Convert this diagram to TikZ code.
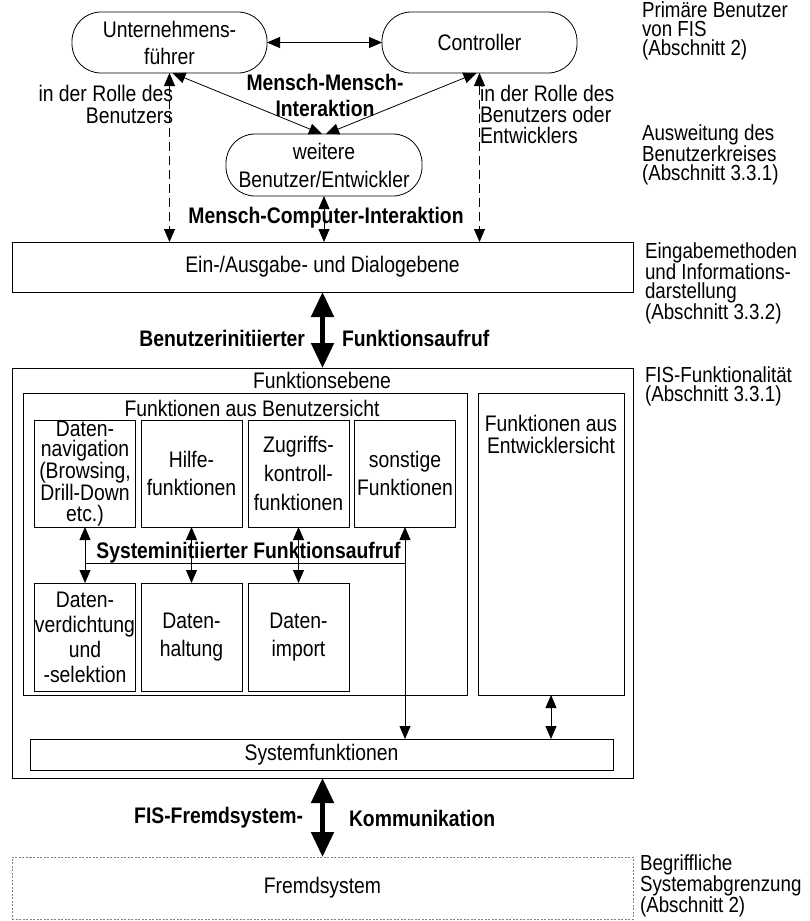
\documentclass[tikz,border=0pt]{standalone}
\usepackage{fontspec}
\setmainfont{Liberation Sans}[FakeStretch=0.86]
\usetikzlibrary{arrows.meta}
\newcommand\fz[1]{\fontsize{22.5}{#1}\selectfont}
\begin{document}
\begin{tikzpicture}[x=1pt,y=-1pt,
  every node/.style={inner sep=0pt, outer sep=0pt, align=center, font=\fz{21}},
  box/.style={draw, line width=0.8pt},
  pill/.style={box, rounded corners=29pt},
  bl/.style={font=\fz{26}\bfseries},
  dbl/.style={line width=0.8pt, {Triangle[length=13pt,width=11pt]}-{Triangle[length=13pt,width=11pt]}},
  dbldash/.style={dbl, dash pattern=on 9pt off 5pt},
  fat/.style={line width=5pt, {Triangle[length=25pt,width=22pt]}-{Triangle[length=25pt,width=22pt]}},
  rl/.style={font=\fontsize{21.8}{19}\selectfont, align=left, anchor=west},
  sbox/.style={box, minimum width=101pt, minimum height=107pt}
  ]
\useasboundingbox (0,0) rectangle (810,921);
% top persons
\node[pill, minimum width=195pt, minimum height=61pt, font=\fz{27}] (uf) at (169.5,42.5) {Unternehmens-\\führer};
\node[pill, minimum width=195pt, minimum height=61pt] (co) at (479.5,42.5) {Controller};
\node[pill, minimum width=196pt, minimum height=62pt, font=\fz{28}] (wb) at (324,165) {weitere\\Benutzer/Entwickler};
% levels
\node[box, minimum width=621pt, minimum height=50pt] (ea) at (322.5,267) {Ein-/Ausgabe- und Dialogebene};
\node[box, minimum width=621pt, minimum height=410pt] (fe) at (322.5,573) {};
\node (fet) at (322,380) {Funktionsebene};
\node[box, minimum width=444pt, minimum height=302pt] (bs) at (245,544) {};
\node (bst) at (252,408) {Funktionen aus Benutzersicht};
\node[box, minimum width=146pt, minimum height=302pt] (es) at (551,544) {};
\node[font=\fz{22}] (est) at (551,434) {Funktionen aus\\Entwicklersicht};
% small boxes
\node[sbox, font=\fz{20.7}] (a1) at (85,473.5) {Daten-\\navigation\\(Browsing,\\Drill-Down\\etc.)};
\node[sbox, font=\fz{28}] (a2) at (191.5,473.5) {Hilfe-\\funktionen};
\node[sbox, font=\fz{29}] (a3) at (298.5,473.5) {Zugriffs-\\kontroll-\\funktionen};
\node[sbox, font=\fz{28}] (a4) at (405,473.5) {sonstige\\Funktionen};
\node[sbox, minimum height=108pt, font=\fz{25}] (b1) at (85,637) {Daten-\\verdichtung\\und\\-selektion};
\node[sbox, minimum height=108pt, font=\fz{28}] (b2) at (191.5,637) {Daten-\\haltung};
\node[sbox, minimum height=108pt, font=\fz{28}] (b3) at (298.5,637) {Daten-\\import};
\node[box, minimum width=583pt, minimum height=31pt] (sf) at (321.5,754.5) {Systemfunktionen};
\node[draw=gray, line width=0.7pt, dash pattern=on 2pt off 1.5pt, minimum width=621pt, minimum height=62pt] (fr) at (322.5,888) {Fremdsystem};
% labels
\node[bl] (mm) at (325,95) {Mensch-Mensch-\\Interaktion};
\node[font=\fz{22}, align=right, anchor=east] (rlu) at (173,104) {in der Rolle des\\Benutzers};
\node[font=\fz{21}, align=left, anchor=west] (rlc) at (480,114) {in der Rolle des\\Benutzers oder\\Entwicklers};
\node[font=\fz{21}\bfseries] (mc) at (326,218) {Mensch-Computer-Interaktion};
\node[font=\fz{21}\bfseries, anchor=east] (bi) at (305,338) {Benutzerinitiierter};
\node[font=\fz{21}\bfseries, anchor=west] (fa) at (342,338) {Funktionsaufruf};
\node[font=\fz{21}\bfseries] (si) at (248.5,553) {Systeminitiierter Funktionsaufruf};
\node[font=\fz{21}\bfseries, anchor=east] (ff) at (303,818) {FIS-Fremdsystem-};
\node[font=\fz{21}\bfseries, anchor=west] (ko) at (349,818) {Kommunikation};
% right column
\node[rl] (r1) at (642,31) {Primäre Benutzer\\von FIS\\(Abschnitt 2)};
\node[rl] (r2) at (642,155) {Ausweitung des\\Benutzerkreises\\(Abschnitt 3.3.1)};
\node[rl] (r3) at (645,283.5) {Eingabemethoden\\und Informations-\\darstellung\\(Abschnitt 3.3.2)};
\node[rl] (r4) at (645,386.5) {FIS-Funktionalität\\(Abschnitt 3.3.1)};
\node[rl] (r5) at (640,886) {Begriffliche\\Systemabgrenzung\\(Abschnitt 2)};
% connectors
\draw[dbl] (uf.east) -- (co.west);
\draw[dbl] ([xshift=3pt]uf.south) -- ([xshift=-2pt]wb.north);
\draw[dbl] ([xshift=-3pt]co.south) -- ([xshift=2pt]wb.north);
\draw[dbldash] (uf.south) -- (uf.south |- ea.north);
\draw[dbldash] (co.south) -- (co.south |- ea.north);
\draw[dbl] (wb.south) -- (wb.south |- ea.north);
\draw[fat] (ea.south) -- (ea.south |- fe.north);
\draw[fat] (fe.south) -- (fr.north);
\draw[dbl] (a1.south) -- (b1.north);
\draw[dbl] (a2.south) -- (b2.north);
\draw[dbl] (a3.south) -- (b3.north);
\coordinate (h1) at (85,563);
\coordinate (h2) at (405,563);
\draw[line width=0.8pt] (h1) -- (h2);
\draw[dbl] (a4.south) -- (a4.south |- sf.north);
\draw[dbl] (es.south) -- (es.south |- sf.north);
\end{tikzpicture}
\end{document}
